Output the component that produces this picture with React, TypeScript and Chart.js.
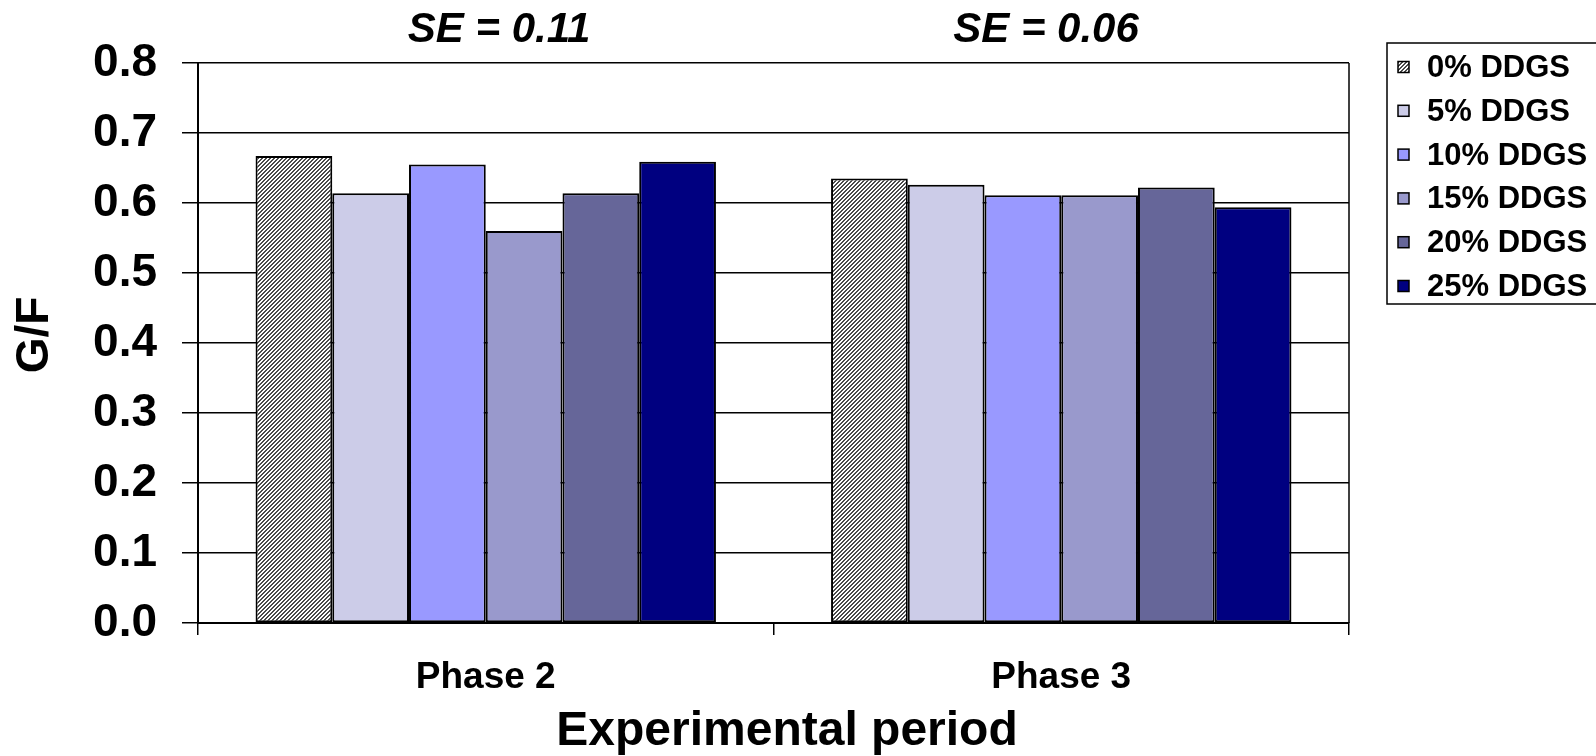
import React, { useEffect, useRef } from "react";
import { Chart, registerables } from "chart.js";

Chart.register(...registerables);

const categories = ["Phase 2", "Phase 3"];
const seriesLabels = ["0% DDGS", "5% DDGS", "10% DDGS", "15% DDGS", "20% DDGS", "25% DDGS"];
const dd0 = [0.667, 0.635];
const dd5 = [0.614, 0.626];
const dd10 = [0.655, 0.611];
const dd15 = [0.560, 0.611];
const dd20 = [0.614, 0.622];
const dd25 = [0.659, 0.594];
const seriesValues = [dd0, dd5, dd10, dd15, dd20, dd25];
const seriesColors = ["hatch", "#CCCCE8", "#9999FF", "#9999CC", "#666699", "#000080"];
const seTitles = ["SE = 0.11", "SE = 0.06"];
const yTicks = [0, 0.1, 0.2, 0.3, 0.4, 0.5, 0.6, 0.7, 0.8];
const xTitle = "Experimental period";
const yTitle = "G/F";

const FONT = '"Liberation Sans", Arial, Helvetica, sans-serif';

function makeHatch(): CanvasPattern | string {
  const c = document.createElement("canvas");
  c.width = 4;
  c.height = 4;
  const g = c.getContext("2d");
  if (!g) return "#888";
  g.fillStyle = "#ffffff";
  g.fillRect(0, 0, 4, 4);
  g.fillStyle = "#4a4a4a";
  for (let x = 0; x < 4; x++) {
    const y = 3 - x;
    g.fillRect(x, y, 1, 1);
    g.fillRect((x + 1) % 4, y, 1, 1);
  }
  const p = g.createPattern(c, "repeat");
  return p || "#888";
}

export default function App() {
  const ref = useRef<HTMLCanvasElement | null>(null);

  useEffect(() => {
    document.body.style.margin = "0";
    document.body.style.overflow = "hidden";
    const canvas = ref.current;
    if (!canvas) return;
    const hatch = makeHatch();
    const fills = seriesColors.map((c) => (c === "hatch" ? hatch : c));

    const decor = {
      id: "decor",
      afterDraw(chart: any) {
        const ctx = chart.ctx;
        const a = chart.chartArea;
        ctx.save();
        // right border of plot area
        ctx.strokeStyle = "#000";
        ctx.lineWidth = 1.5;
        ctx.beginPath();
        ctx.moveTo(a.right, a.top);
        ctx.lineTo(a.right, a.bottom);
        ctx.stroke();

        // SE titles
        ctx.fillStyle = "#000";
        ctx.font = `italic bold 42px ${FONT}`;
        ctx.textAlign = "center";
        ctx.textBaseline = "middle";
        const seX = [499, 1046];
        seTitles.forEach((t, i) => ctx.fillText(t, seX[i], 30));

        // x title
        ctx.font = `bold 48px ${FONT}`;
        ctx.fillText(xTitle, 787, 732);

        // y title
        ctx.save();
        ctx.translate(35, 335);
        ctx.rotate(-Math.PI / 2);
        ctx.font = `bold 46px ${FONT}`;
        ctx.fillText(yTitle, 0, 0);
        ctx.restore();

        // legend
        const lx = 1387, ly = 43, lw = 220, lh = 261;
        ctx.fillStyle = "#fff";
        ctx.fillRect(lx, ly, lw, lh);
        ctx.strokeStyle = "#000";
        ctx.lineWidth = 1.5;
        ctx.strokeRect(lx, ly, lw, lh);
        ctx.font = `bold 31px ${FONT}`;
        ctx.textAlign = "left";
        ctx.textBaseline = "middle";
        chart.data.datasets.forEach((ds: any, i: number) => {
          const cy = 67.5 + i * 43.8;
          ctx.fillStyle = ds.backgroundColor;
          ctx.fillRect(1398, cy - 6, 11, 11);
          ctx.strokeStyle = "#000";
          ctx.lineWidth = 1.5;
          ctx.strokeRect(1398, cy - 6, 11, 11);
          ctx.fillStyle = "#000";
          ctx.fillText(ds.label, 1427, cy + 1);
        });
        ctx.restore();
      },
    };

    const chart = new Chart(canvas, {
      type: "bar",
      data: {
        labels: categories,
        datasets: seriesLabels.map((label, i) => ({
          label,
          data: seriesValues[i],
          backgroundColor: fills[i] as any,
          borderColor: "#000",
          borderWidth: 2,
          borderSkipped: false,
          barPercentage: 1,
          categoryPercentage: 0.8,
        })),
      },
      options: {
        responsive: false,
        animation: false,
        devicePixelRatio: 1,
        layout: { padding: { top: 63, right: 247, left: 0, bottom: 0 } },
        plugins: {
          legend: { display: false },
          tooltip: { enabled: false },
          title: { display: false },
        },
        scales: {
          x: {
            position: "bottom",
            grid: {
              display: true,
              offset: true,
              drawOnChartArea: false,
              drawTicks: true,
              tickLength: 12,
              color: "#000",
              lineWidth: 1.5,
            },
            border: { display: true, color: "#000", width: 2 },
            ticks: {
              color: "#000",
              padding: 21,
              font: { family: FONT, size: 37, weight: "bold" },
              maxRotation: 0,
            },
            afterFit(scale: any) {
              scale.height = 133;
            },
          },
          y: {
            min: 0,
            max: 0.8,
            afterBuildTicks(scale: any) {
              scale.ticks = yTicks.map((v) => ({ value: v }));
            },
            grid: {
              display: true,
              drawTicks: true,
              tickLength: 16,
              color: "#000",
              lineWidth: 1.5,
            },
            border: { display: true, color: "#000", width: 2 },
            ticks: {
              color: "#000",
              padding: 25,
              font: { family: FONT, size: 46, weight: "bold" },
              callback: (v: any) => Number(v).toFixed(1),
            },
            afterFit(scale: any) {
              scale.width = 198;
            },
          },
        },
      },
      plugins: [decor],
    });
    return () => chart.destroy();
  }, []);

  return (
    <div style={{ width: 1596, height: 756, background: "#fff" }}>
      <canvas ref={ref} width={1596} height={756} style={{ display: "block" }} />
    </div>
  );
}
